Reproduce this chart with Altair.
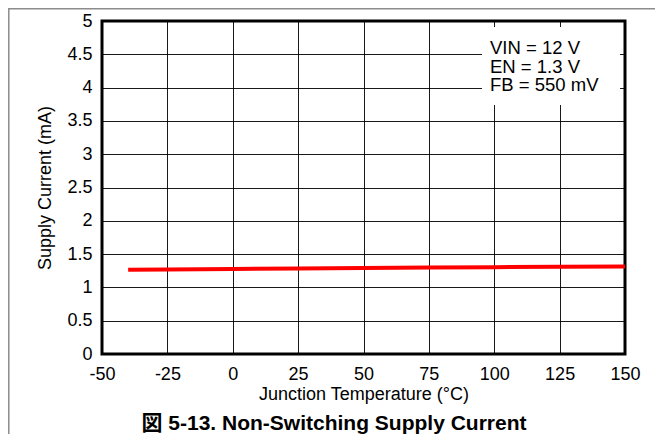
import altair as alt
import pandas as pd

temps = [-40, -25, 0, 25, 50, 75, 100, 125, 150]
current = [1.265, 1.27, 1.277, 1.284, 1.291, 1.298, 1.304, 1.31, 1.315]
x_ticks = [-50, -25, 0, 25, 50, 75, 100, 125, 150]
y_ticks = [0, 0.5, 1, 1.5, 2, 2.5, 3, 3.5, 4, 4.5, 5]
notes = "VIN = 12 V\nEN = 1.3 V\nFB = 550 mV"
title_text = "図 5-13. Non-Switching Supply Current"

FONT = "Liberation Sans, Arial, Noto Sans CJK JP"

df = pd.DataFrame({"T": temps, "I": current})
one = pd.DataFrame({"k": [0]})

x_enc = alt.X("T:Q", scale=alt.Scale(domain=[-50, 150], nice=False),
              axis=alt.Axis(values=x_ticks, labelExpr="'' + datum.value",
                            title="Junction Temperature (°C)", labelFlush=False,
                            labelPadding=11, titlePadding=2))
y_enc = alt.Y("I:Q", scale=alt.Scale(domain=[0, 5], nice=False),
              axis=alt.Axis(values=y_ticks, labelExpr="'' + datum.value",
                            title="Supply Current (mA)",
                            labelPadding=10, titlePadding=12))

line = alt.Chart(df).mark_line(color="#ff0000", strokeWidth=4, strokeCap="butt").encode(
    x=x_enc, y=y_enc)

frame = alt.Chart(one).mark_rect(fill="transparent", stroke="#8c8c8c", strokeWidth=1.5).encode(
    x=alt.value(-93.2), x2=alt.value(600), y=alt.value(-12.2), y2=alt.value(440))

box = alt.Chart(one).mark_rect(fill="white").encode(
    x=alt.value(380), x2=alt.value(518), y=alt.value(6), y2=alt.value(84))

text = alt.Chart(one).mark_text(text=notes, lineBreak="\n", lineHeight=18.5, font=FONT,
                                fontSize=18.5, align="left", baseline="top", color="black").encode(
    x=alt.value(388), y=alt.value(18))

title = alt.Chart(one).mark_text(text=title_text, font=FONT, fontSize=21, fontWeight="bold",
                                 align="center", baseline="alphabetic", color="black").encode(
    x=alt.value(232), y=alt.value(409))

chart = alt.layer(frame, line, box, text, title).properties(
    width=523, height=333,
    autosize=alt.AutoSizeParams(type="none"),
    padding={"left": 94, "top": 13, "right": 30, "bottom": 80},
).configure(background="white").configure_view(stroke="black", strokeWidth=3).configure_axis(
    domain=False, ticks=False, grid=True, gridColor="black", gridWidth=1, gridOpacity=0.9,
    labelFont=FONT, labelFontSize=18, labelColor="black",
    titleFont=FONT, titleFontSize=18, titleFontWeight="normal", titleColor="black",
)

chart.save("out.html", embed_options={"renderer": "svg", "actions": False})
